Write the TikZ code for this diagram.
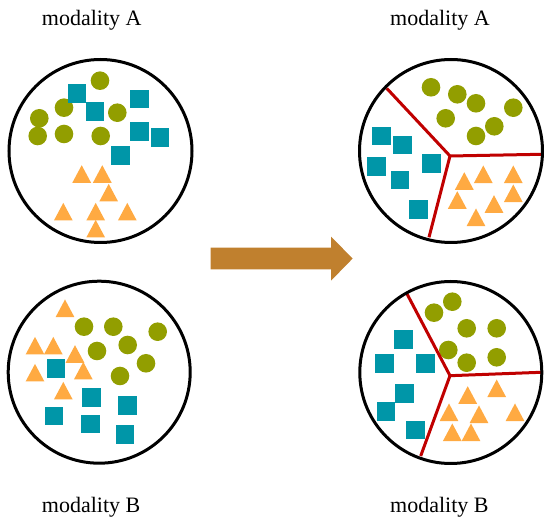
\documentclass[tikz,border=0pt]{standalone}
\usepackage{fontspec}
\setmainfont{Liberation Serif}
\definecolor{dotgreen}{RGB}{146,158,0}
\definecolor{sqteal}{RGB}{0,150,168}
\definecolor{triorange}{RGB}{255,170,66}
\definecolor{splitred}{RGB}{192,0,0}
\definecolor{arrowbronze}{RGB}{192,128,46}
\newcommand\gdot[2]{\fill[dotgreen] (#1,#2) circle (9.3);}
\newcommand\tsq[2]{\fill[sqteal] (#1,#2) ++(-9.35,-9.35) rectangle ++(18.7,18.7);}
\newcommand\otri[2]{\fill[triorange] (#1,#2) ++(-9.4,8.8) -- ++(18.8,0) -- ++(-9.4,-17.6) -- cycle;}
\tikzset{
  ring/.style={draw=black, line width=3},
  splitline/.style={draw=splitred, line width=3},
  label/.style={font=\fontsize{22}{26}\selectfont, anchor=base west, inner sep=0pt}
}
\begin{document}
\begin{tikzpicture}[x=1pt,y=-1pt]
\useasboundingbox (0,0) rectangle (550,529);
% labels
\node[label] (la1) at (41.7,26) {modality A};
\node[label] (la2) at (390,26) {modality A};
\node[label] (lb1) at (41.7,512.3) {modality B};
\node[label] (lb2) at (390,512.3) {modality B};
% ---- circle 1 (top-left)
\gdot{100}{80.7}\gdot{64}{107.7}\gdot{39.3}{118.3}\gdot{117.3}{112.7}
\gdot{37.7}{136}\gdot{64}{134}\gdot{100.7}{136}
\tsq{77}{93.3}\tsq{95}{111.7}\tsq{139.3}{99}\tsq{139.3}{131.7}\tsq{160}{137.3}\tsq{120.7}{155.3}
\otri{81.7}{174}\otri{102.3}{174}\otri{108.7}{192.7}\otri{63.3}{211.7}
\otri{95.7}{211.7}\otri{127.3}{211.7}\otri{95.7}{228.7}
\draw[ring] (100.5,151) circle (91.5);
% ---- circle 2 (top-right)
\coordinate (y1) at (450,156);
\coordinate (y1a) at (386.7,88.3);
\coordinate (y1b) at (541,154.3);
\coordinate (y1c) at (429,237.3);
\gdot{431}{87.3}\gdot{457.3}{94.3}\gdot{476}{103.3}\gdot{513.3}{107.7}
\gdot{445.7}{118.3}\gdot{494.3}{126.3}\gdot{476}{136}
\tsq{381.7}{136}\tsq{402.3}{145}\tsq{376.7}{166.7}\tsq{431.7}{163.3}\tsq{400}{180}\tsq{418.3}{209.3}
\otri{464.3}{181}\otri{483.3}{174.3}\otri{513.3}{174.3}\otri{457.3}{200}
\otri{513.3}{193.3}\otri{494}{204}\otri{476}{217.3}
\draw[splitline] (y1a) -- (y1) -- (y1b);
\draw[splitline] (y1) -- (y1c);
\draw[ring] (451,151) circle (91.5);
% ---- circle 3 (bottom-left)
\otri{65}{308.3}\otri{35}{345.7}\otri{53.3}{345.7}\otri{75}{354}
\otri{35}{372.7}\otri{83.3}{370.7}\otri{63.3}{390.7}
\gdot{84}{326.7}\gdot{113.3}{326.7}\gdot{157.7}{331.7}\gdot{127.7}{345}
\gdot{97}{351}\gdot{146}{363.3}\gdot{120}{376}
\tsq{56}{368.3}\tsq{91.7}{397.7}\tsq{127.7}{405.7}\tsq{54}{416}\tsq{90.7}{424}\tsq{125}{434.3}
\draw[ring] (99.2,372.2) circle (91);
% ---- circle 4 (bottom-right)
\coordinate (y2) at (450,375.7);
\coordinate (y2a) at (406.7,293.3);
\coordinate (y2b) at (541,372.3);
\coordinate (y2c) at (420.7,456);
\gdot{452.3}{301.7}\gdot{434}{312.7}\gdot{466.7}{328.3}\gdot{496.7}{328.3}
\gdot{448.3}{350}\gdot{466.7}{362.7}\gdot{496.7}{357.3}
\tsq{403.3}{339.3}\tsq{384.3}{363.3}\tsq{425.3}{363.3}\tsq{404.3}{393.3}\tsq{386}{411.7}\tsq{415.7}{430}
\otri{467.7}{395}\otri{496.7}{388.3}\otri{449}{412.3}\otri{479}{414.3}
\otri{515}{412.3}\otri{452.3}{432.3}\otri{471}{432.3}
\draw[splitline] (y2a) -- (y2) -- (y2b);
\draw[splitline] (y2) -- (y2c);
\draw[ring] (450.8,372.5) circle (91);
% ---- arrow
\fill[arrowbronze] (210.7,247.7) -- (331,247.7) -- (331,236.7) -- (352.7,258.5)
  -- (331,280.7) -- (331,269.3) -- (210.7,269.3) -- cycle;
\end{tikzpicture}
\end{document}
